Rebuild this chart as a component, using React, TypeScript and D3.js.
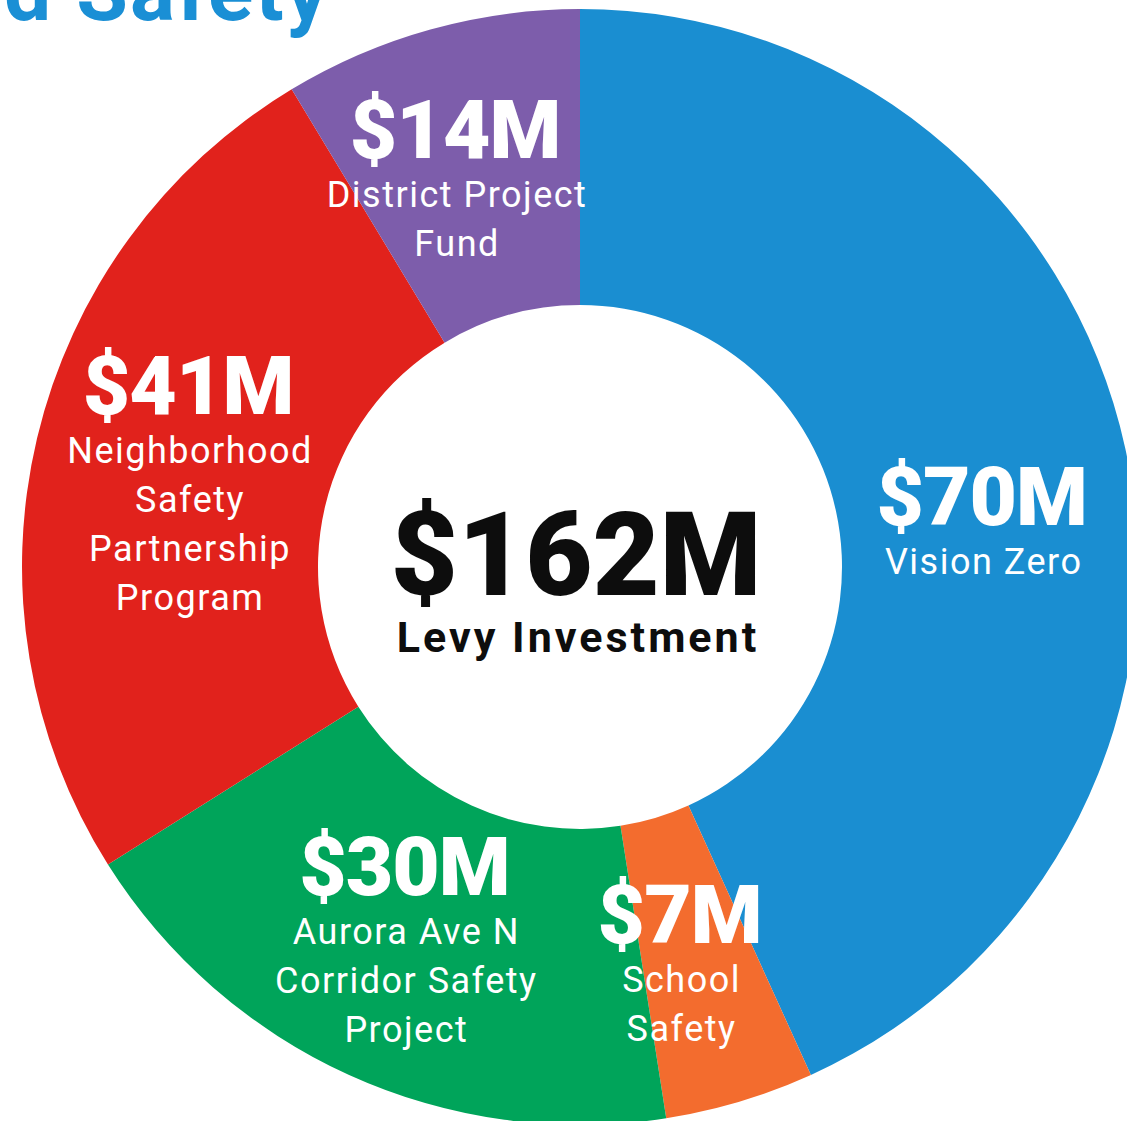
import React from "react";
import * as d3 from "d3";

// ---- data ----
const categories = [
  "Vision Zero",
  "School Safety",
  "Aurora Ave N Corridor Safety Project",
  "Neighborhood Safety Partnership Program",
  "District Project Fund",
];
const values = [70, 7, 30, 41, 14]; // $M
const amountLabels = ["$70M", "$7M", "$30M", "$41M", "$14M"];
const nameLines = [
  ["Vision Zero"],
  ["School", "Safety"],
  ["Aurora Ave N", "Corridor Safety", "Project"],
  ["Neighborhood", "Safety", "Partnership", "Program"],
  ["District Project", "Fund"],
];
const colors = ["#1a8ed1", "#f36c2e", "#00a45a", "#e1221c", "#7d5dab"];
const totalLabel = "$162M";
const totalCaption = "Levy Investment";
const titleText = "Road Safety";

// ---- layout (label nudges from arc centroid) ----
const labelNudges = [
  { dx: 1, dy: 45 },
  { dx: -18, dy: -17 },
  { dx: -6, dy: -45 },
  { dx: 7, dy: -58 },
  { dx: -15, dy: -14 },
];

const W = 1127;
const H = 1121;
const cx = 580;
const cy = 567;
const rOuter = 558;
const rInner = 262;
const lineGap = 49;

export default function App() {
  const pie = d3
    .pie<number>()
    .sort(null)
    .value((d) => d)(values);
  const arc = d3.arc<d3.PieArcDatum<number>>().innerRadius(rInner).outerRadius(rOuter);
  const font = "Roboto, 'Noto Sans', sans-serif";

  return (
    <svg
      width={W}
      height={H}
      viewBox={`0 0 ${W} ${H}`}
      style={{ position: "absolute", left: 0, top: 0, background: "#ffffff" }}
    >
      <rect x={0} y={0} width={W} height={H} fill="#ffffff" />
      <text
        x={330}
        y={20}
        textAnchor="end"
        fontFamily={font}
        fontWeight={700}
        fontSize={84}
        letterSpacing={2}
        fill="#1a8fd5"
      >
        {titleText}
      </text>
      <g transform={`translate(${cx},${cy})`}>
        {pie.map((p, i) => (
          <path key={categories[i]} d={arc(p) || ""} fill={colors[i]} />
        ))}
        {pie.map((p, i) => {
          const [x0, y0] = arc.centroid(p);
          const x = x0 + labelNudges[i].dx;
          const y = y0 + labelNudges[i].dy;
          return (
            <g key={"lab" + i} fill="#ffffff" fontFamily={font} textAnchor="middle">
              <text x={x} y={y} fontSize={82} fontWeight={900} letterSpacing={-1}>
                {amountLabels[i]}
              </text>
              {nameLines[i].map((ln, j) => (
                <text
                  key={j}
                  x={x + 2}
                  y={y + lineGap * (j + 1)}
                  fontSize={36}
                  fontWeight={400}
                  letterSpacing={1.5}
                >
                  {ln}
                </text>
              ))}
            </g>
          );
        })}
        <text
          x={-4}
          y={28}
          textAnchor="middle"
          fontFamily={font}
          fontWeight={900}
          fontSize={116}
          fill="#0d0d0d"
        >
          {totalLabel}
        </text>
        <text
          x={-2}
          y={85}
          textAnchor="middle"
          fontFamily={font}
          fontWeight={700}
          fontSize={43}
          letterSpacing={3}
          fill="#0d0d0d"
        >
          {totalCaption}
        </text>
      </g>
    </svg>
  );
}
